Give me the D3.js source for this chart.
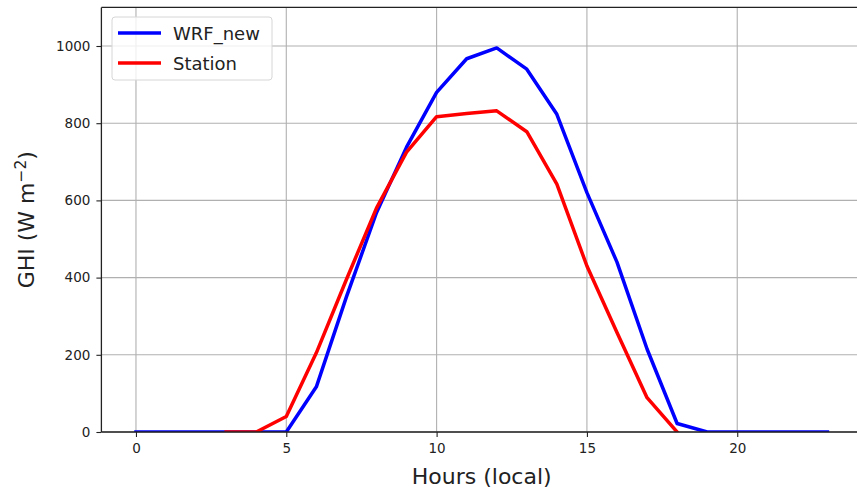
<!DOCTYPE html>
<html>
<head>
<meta charset="utf-8">
<script src="https://cdn.jsdelivr.net/npm/d3@7"></script>
<style>
  html, body { margin: 0; padding: 0; background: #fff; }
  svg { display: block; font-family: "DejaVu Sans", sans-serif; }
</style>
</head>
<body>
<svg id="chart" width="857" height="494"></svg>
<script>
// Hourly global horizontal irradiance, local time
const hours = d3.range(0, 24);
const wrfNew = [0, 0, 0, 0, 0, 0, 117, 350, 568, 738, 880, 967, 995, 940, 823, 620, 440, 215, 22, 0, 0, 0, 0, 0];
const station = [null, null, null, 0, 0, 40, 205, 395, 580, 725, 817, 825, 832, 778, 642, 430, 258, 89, 0, null, null, null, null, null];
const xTicks = [0, 5, 10, 15, 20];
const yTicks = [0, 200, 400, 600, 800, 1000];
const seriesNames = ["WRF_new", "Station"];
const seriesColors = ["#0000ff", "#ff0000"];

const svg = d3.select("#chart");
const plot = { left: 101.4, right: 862, top: 7.4, bottom: 432 };

const x = d3.scaleLinear().domain([-1.15, 24.15]).range([plot.left, plot.right]);
const y = d3.scaleLinear().domain([0, 1100]).range([plot.bottom, plot.top]);

svg.append("defs").append("clipPath").attr("id", "plot-clip")
  .append("rect")
  .attr("x", plot.left).attr("y", plot.top)
  .attr("width", plot.right - plot.left).attr("height", plot.bottom - plot.top);

// grid
const grid = svg.append("g").attr("stroke", "#b0b0b0").attr("stroke-width", 1.1);
grid.selectAll("line.gx").data(xTicks).join("line")
  .attr("x1", d => x(d)).attr("x2", d => x(d))
  .attr("y1", plot.top).attr("y2", plot.bottom);
grid.selectAll("line.gy").data(yTicks).join("line")
  .attr("x1", plot.left).attr("x2", plot.right)
  .attr("y1", d => y(d)).attr("y2", d => y(d));

// series
const line = d3.line()
  .defined(d => d[1] !== null)
  .x(d => x(d[0])).y(d => y(d[1]));

const lines = svg.append("g").attr("clip-path", "url(#plot-clip)");
[wrfNew, station].forEach((vals, i) => {
  lines.append("path")
    .datum(hours.map((h, k) => [h, vals[k]]))
    .attr("d", line)
    .attr("fill", "none")
    .attr("stroke", seriesColors[i])
    .attr("stroke-width", 3.5)
    .attr("stroke-linejoin", "round")
    .attr("stroke-linecap", "square");
});

// axes
const xAxis = svg.append("g").attr("transform", `translate(0,${plot.bottom})`)
  .call(d3.axisBottom(x).tickValues(xTicks).tickSize(5).tickPadding(6).tickFormat(d3.format("d")));
const yAxis = svg.append("g").attr("transform", `translate(${plot.left},0)`)
  .call(d3.axisLeft(y).tickValues(yTicks).tickSize(5).tickPadding(6).tickFormat(d3.format("d")));
[xAxis, yAxis].forEach(a => {
  a.select(".domain").remove();
  a.selectAll(".tick line").attr("stroke", "#222").attr("stroke-width", 1.1);
  a.selectAll(".tick text").attr("fill", "#222").style("font-size", "13.5px")
    .style("font-family", "'DejaVu Sans', sans-serif");
});

// spines
const spine = svg.append("g").attr("stroke", "#222").attr("stroke-width", 1.3).attr("fill", "none");
spine.append("line").attr("x1", plot.left).attr("x2", plot.left).attr("y1", plot.top).attr("y2", plot.bottom);
spine.append("line").attr("x1", plot.left).attr("x2", plot.right).attr("y1", plot.bottom).attr("y2", plot.bottom);
spine.append("line").attr("x1", plot.left).attr("x2", plot.right).attr("y1", plot.top).attr("y2", plot.top);

// axis labels
svg.append("text")
  .attr("x", (plot.left + plot.right) / 2).attr("y", 484)
  .attr("text-anchor", "middle").attr("fill", "#222")
  .style("font-size", "22px")
  .text("Hours (local)");

const yl = svg.append("text")
  .attr("transform", `translate(34,${(plot.top + plot.bottom) / 2}) rotate(-90)`)
  .attr("text-anchor", "middle").attr("fill", "#222")
  .style("font-size", "22px");
yl.append("tspan").text("GHI (W m");
yl.append("tspan").attr("dy", -8).style("font-size", "15.5px").text("\u22122");
yl.append("tspan").attr("dy", 8).text(")");

// legend
const lg = svg.append("g");
lg.append("rect")
  .attr("x", 112).attr("y", 17).attr("width", 160).attr("height", 63)
  .attr("rx", 3).attr("fill", "#fff").attr("fill-opacity", 0.8)
  .attr("stroke", "#d6d6d6").attr("stroke-width", 1);
seriesNames.forEach((name, i) => {
  const cy = 33 + i * 30;
  lg.append("line")
    .attr("x1", 118).attr("x2", 161).attr("y1", cy).attr("y2", cy)
    .attr("stroke", seriesColors[i]).attr("stroke-width", 3.5);
  lg.append("text")
    .attr("x", 173).attr("y", cy + 6.5)
    .attr("fill", "#222").style("font-size", "18px")
    .text(name);
});
</script>
</body>
</html>
